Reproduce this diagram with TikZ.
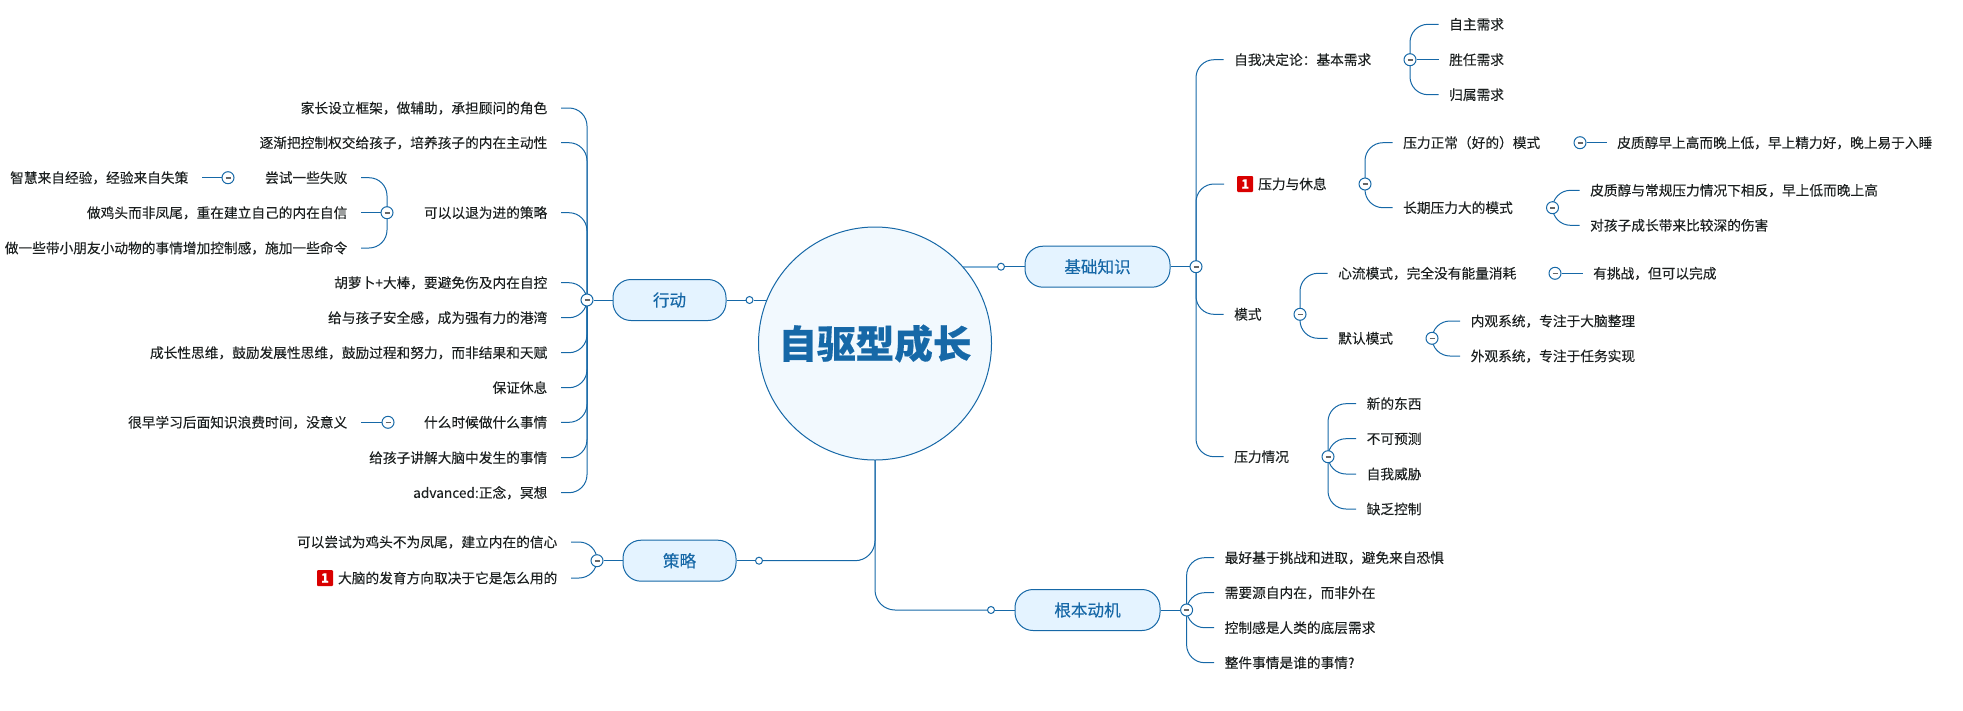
\documentclass[tikz,border=0pt]{standalone}
\usepackage{fontspec}
\setmainfont{Noto Sans CJK SC}[FakeBold=0.12,BoldFeatures={FakeBold=0.4}]
\definecolor{main}{RGB}{22,104,167}
\definecolor{mainl}{RGB}{130,178,214}
\definecolor{rootbg}{RGB}{242,249,254}
\definecolor{topicbg}{RGB}{228,243,255}
\definecolor{inkc}{RGB}{28,32,32}
\definecolor{badgec}{RGB}{217,0,0}
\usetikzlibrary{
	positioning,
	calc,
	backgrounds
}
\tikzset{
  % line
	cstline/.style    ={main,line width=1pt},
	cstlink/.style    ={mainl,line width=2pt},
	cstbranch/.style  ={main,line width=1pt,rounded corners=18pt},
  % node
	cstroot/.style    ={circle,draw=main,fill=rootbg,line width=1pt,minimum size=233pt,inner sep=0pt,text=main,font=\fontsize{38.6}{40}\selectfont\bfseries},
	csttopic/.style   ={draw=main,fill=topicbg,line width=1pt,rounded corners=18pt,minimum height=41pt,text=main,inner sep=0pt,font=\fontsize{16.6}{18}\selectfont},
	cstleaf/.style    ={text=inkc,inner ysep=0pt,text height=12pt,text depth=1.6pt,font=\fontsize{13.7}{16}\selectfont},
	cstright/.style   ={cstleaf,anchor=west,inner xsep=10.5pt},
	cstleft/.style    ={cstleaf,anchor=east,inner xsep=13.5pt},
	cstbadge/.style   ={fill=badgec,text=white,rounded corners=1pt,minimum size=16pt,inner sep=0pt,font=\fontsize{13}{13}\selectfont\bfseries},
  % dot
	cstjoint/.style   ={circle,draw=main,fill=white,line width=1pt,minimum size=7pt,inner sep=0pt},
	csttoggle/.style  ={circle,draw=main,fill=white,line width=1pt,minimum size=12pt,inner sep=0pt,
		path picture={\draw[black!60,line width=1.6pt] ($(path picture bounding box.center)+(-2.5pt,0)$)--+(5pt,0);}}
}
\begin{document}
\begin{tikzpicture}[x=1pt,y=-1pt]
	\useasboundingbox (0,0) rectangle (1963,710);
	\node[cstroot] (root) at (875,343.5) {自驱型成长};
	% topics
	\node[csttopic,minimum width=145pt] (base) at (1097.5,266.7) {基础知识};
	\node[csttopic,minimum width=145pt] (motive) at (1087.5,610) {根本动机};
	\node[csttopic,minimum width=113pt] (act) at (669.5,300) {行动};
	\node[csttopic,minimum width=113pt] (plan) at (679.5,560.7) {策略};
	\node[cstjoint] (jbase) at (1001,266.7) {};
	\node[cstjoint] (jmotive) at (991,610) {};
	\node[cstjoint] (jact) at (749.5,300) {};
	\node[cstjoint] (jplan) at (759,560.7) {};
	% toggles
	\node[csttoggle] (tbase) at (1196,266.7) {};
	\node[csttoggle] (tself) at (1410,59.7) {};
	\node[csttoggle] (tstress) at (1365,184) {};
	\node[csttoggle] (tnormal) at (1580,142.7) {};
	\node[csttoggle] (tlong) at (1552.5,207.7) {};
	\node[csttoggle] (tmode) at (1300,314.3) {};
	\node[csttoggle] (tflow) at (1555,273.3) {};
	\node[csttoggle] (tdefault) at (1432,338.3) {};
	\node[csttoggle] (tpress) at (1328,456.7) {};
	\node[csttoggle] (tmotive) at (1186.6,610) {};
	\node[csttoggle] (tact) at (587,300) {};
	\node[csttoggle] (tretreat) at (387,212.7) {};
	\node[csttoggle] (ttry) at (228,177.7) {};
	\node[csttoggle] (twhen) at (388,422.3) {};
	\node[csttoggle] (tplan) at (597,560.7) {};
	% right side
	\node[cstright] (self) at (1223.5,59.7) {自我决定论：基本需求};
	\node[cstright] (self1) at (1438.5,24.3) {自主需求};
	\node[cstright] (self2) at (1438.5,59.7) {胜任需求};
	\node[cstright] (self3) at (1438.5,94.7) {归属需求};
	\node[cstright,inner xsep=34pt] (stress) at (1224,184) {压力与休息};
	\node[cstbadge,right=13pt of stress.west] (bstress) {1};
	\node[cstright] (normal) at (1392.5,142.7) {压力正常（好的）模式};
	\node[cstright] (normal1) at (1606.5,142.7) {皮质醇早上高而晚上低，早上精力好，晚上易于入睡};
	\node[cstright] (long) at (1392.5,207.7) {长期压力大的模式};
	\node[cstright] (long1) at (1579.5,190.3) {皮质醇与常规压力情况下相反，早上低而晚上高};
	\node[cstright] (long2) at (1579.5,225.3) {对孩子成长带来比较深的伤害};
	\node[cstright] (mode) at (1223.5,314.3) {模式};
	\node[cstright] (flow) at (1327.5,273.3) {心流模式，完全没有能量消耗};
	\node[cstright] (flow1) at (1582.5,273.3) {有挑战，但可以完成};
	\node[cstright] (default) at (1327.5,338.3) {默认模式};
	\node[cstright] (default1) at (1460,321) {内观系统，专注于大脑整理};
	\node[cstright] (default2) at (1460,356) {外观系统，专注于任务实现};
	\node[cstright] (press) at (1223.5,456.7) {压力情况};
	\node[cstright] (press1) at (1356,403.7) {新的东西};
	\node[cstright] (press2) at (1356,438.7) {不可预测};
	\node[cstright] (press3) at (1356,474) {自我威胁};
	\node[cstright] (press4) at (1356,509) {缺乏控制};
	\node[cstright] (motive1) at (1214,557.7) {最好基于挑战和进取，避免来自恐惧};
	\node[cstright] (motive2) at (1214,592.7) {需要源自内在，而非外在};
	\node[cstright] (motive3) at (1214,627.7) {控制感是人类的底层需求};
	\node[cstright] (motive4) at (1214,662.7) {整件事情是谁的事情?};
	% left side
	\node[cstleft] (act1) at (561,108) {家长设立框架，做辅助，承担顾问的角色};
	\node[cstleft] (act2) at (561,142.7) {逐渐把控制权交给孩子，培养孩子的内在主动性};
	\node[cstleft] (act3) at (561,212.7) {可以以退为进的策略};
	\node[cstleft] (act4) at (561,282.7) {胡萝卜+大棒，要避免伤及内在自控};
	\node[cstleft] (act5) at (561,317.7) {给与孩子安全感，成为强有力的港湾};
	\node[cstleft] (act6) at (561,352.7) {成长性思维，鼓励发展性思维，鼓励过程和努力，而非结果和天赋};
	\node[cstleft] (act7) at (561,387.7) {保证休息};
	\node[cstleft] (act8) at (561,422.3) {什么时候做什么事情};
	\node[cstleft] (act9) at (561,457.7) {给孩子讲解大脑中发生的事情};
	\node[cstleft] (act10) at (561,492.7) {advanced:正念，冥想};
	\node[cstleft] (try) at (361,177.7) {尝试一些失败};
	\node[cstleft] (try1) at (202,177.7) {智慧来自经验，经验来自失策};
	\node[cstleft] (retreat2) at (361,212.7) {做鸡头而非凤尾，重在建立自己的内在自信};
	\node[cstleft] (retreat3) at (361,248) {做一些带小朋友小动物的事情增加控制感，施加一些命令};
	\node[cstleft] (when1) at (361,422.3) {很早学习后面知识浪费时间，没意义};
	\node[cstleft] (plan1) at (571,542) {可以尝试为鸡头不为凤尾，建立内在的信心};
	\node[cstleft] (plan2) at (571,578) {大脑的发育方向取决于它是怎么用的};
	\node[cstbadge] (bplan) at (325,578) {1};
	% connectors
	\begin{scope}[on background layer]
		\draw[cstlink] (jbase)--(jbase -| root);
		\draw[cstline] (jact)--(jact -| root);
		\draw[cstline] (jbase)--(base);
		\draw[cstline] (jact)--(act);
		\draw[cstline] (jplan)--(plan);
		\draw[cstline] (jmotive)--(motive);
		\draw[cstbranch,rounded corners=20pt] (root.center) |- (jplan);
		\draw[cstbranch,rounded corners=20pt] (root.center) |- (jmotive);
		\draw[cstline] (base)--(tbase);
		\draw[cstline] (motive)--(tmotive);
		\draw[cstline] (act)--(tact);
		\draw[cstline] (plan)--(tplan);
		\draw[cstline] (tself)--(self2);
		\draw[cstline] (tnormal)--(normal1);
		\draw[cstline] (tflow)--(flow1);
		\draw[cstline] (ttry)--(try1);
		\draw[cstline] (tretreat)--(retreat2);
		\draw[cstline] (twhen)--(when1);
		\foreach \leaf in {self,stress,mode,press} \draw[cstbranch] (tbase.center) |- (\leaf);
		\foreach \leaf in {self1,self3} \draw[cstbranch] (tself.center) |- (\leaf);
		\foreach \leaf in {normal,long} \draw[cstbranch] (tstress.center) |- (\leaf);
		\foreach \leaf in {long1,long2} \draw[cstbranch] (tlong.center) |- (\leaf);
		\foreach \leaf in {flow,default} \draw[cstbranch] (tmode.center) |- (\leaf);
		\foreach \leaf in {default1,default2} \draw[cstbranch] (tdefault.center) |- (\leaf);
		\foreach \leaf in {press1,press2,press3,press4} \draw[cstbranch] (tpress.center) |- (\leaf);
		\foreach \leaf in {motive1,motive2,motive3,motive4} \draw[cstbranch] (tmotive.center) |- (\leaf);
		\foreach \leaf in {act1,act2,act3,act4,act5,act6,act7,act8,act9,act10} \draw[cstbranch] (tact.center) |- (\leaf);
		\foreach \leaf in {try,retreat3} \draw[cstbranch] (tretreat.center) |- (\leaf);
		\foreach \leaf in {plan1,plan2} \draw[cstbranch] (tplan.center) |- (\leaf);
	\end{scope}
\end{tikzpicture}
\end{document}
